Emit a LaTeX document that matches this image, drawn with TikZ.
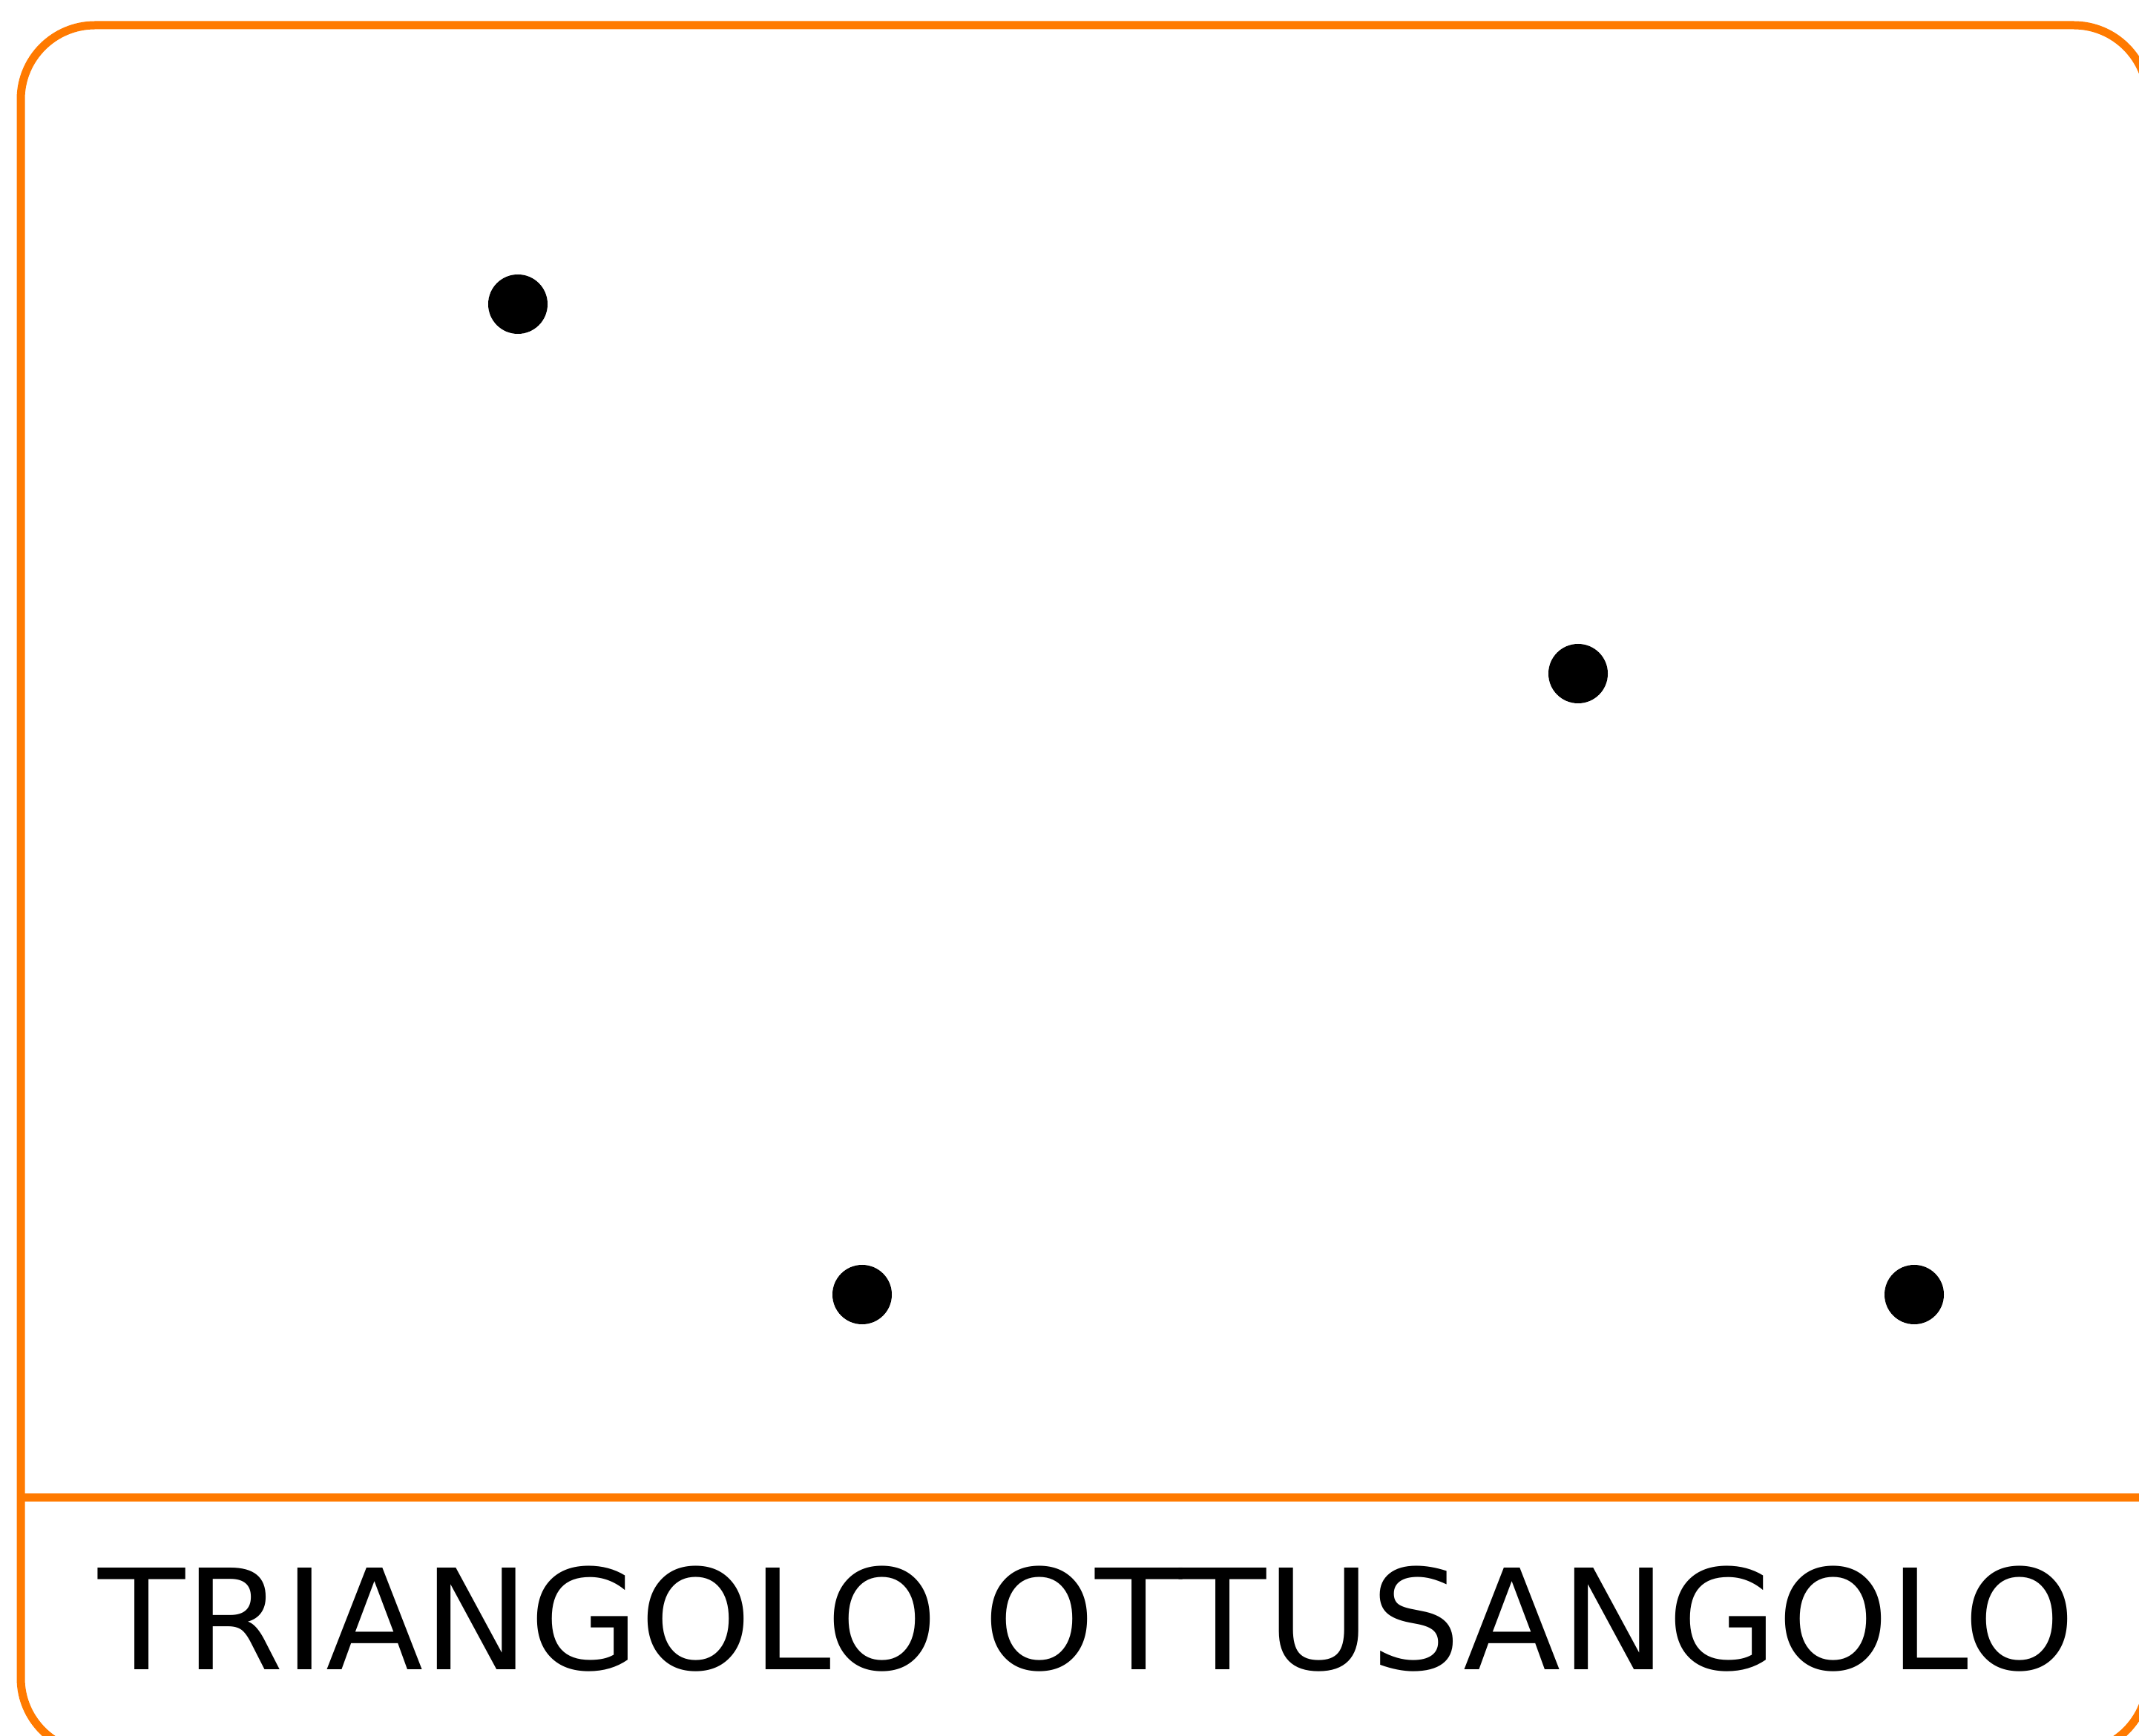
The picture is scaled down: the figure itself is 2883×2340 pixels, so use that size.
\documentclass[tikz,border=0pt]{standalone}
\usepackage{fontspec}
\setmainfont{DejaVu Sans}
\newfontfamily\titlefont[FakeStretch=1.02]{DejaVu Sans}
\definecolor{frameorange}{RGB}{255,122,0}
\begin{document}
\begin{tikzpicture}[x=0.25pt,y=-0.25pt,
  frame/.style={draw=frameorange,line width=2.75pt,rounded corners=25pt},
  sepline/.style={draw=frameorange,line width=2.75pt},
  dot/.style={circle,fill=black,draw=none,inner sep=0pt,minimum size=20pt},
  label/.style={anchor=base,inner sep=0pt,font=\titlefont\fontsize{47pt}{56pt}\selectfont}]
\useasboundingbox (0,0) rectangle (2883,2340);
\clip (0,0) rectangle (2883,2340);
\fill[white] (0,0) rectangle (2883,2340);
\draw[frame] (28,34) rectangle (2895,2362);
\coordinate (sepL) at (28,2018);
\coordinate (sepR) at (2895,2018);
\draw[sepline] (sepL) -- (sepR);
\node[dot] (p1) at (698,410) {};
\node[dot] (p2) at (2127,908) {};
\node[dot] (p3) at (1162,1745) {};
\node[dot] (p4) at (2580,1745) {};
\node[label] (title) at (1465,2250) {TRIANGOLO OTTUSANGOLO};
\end{tikzpicture}
\end{document}
